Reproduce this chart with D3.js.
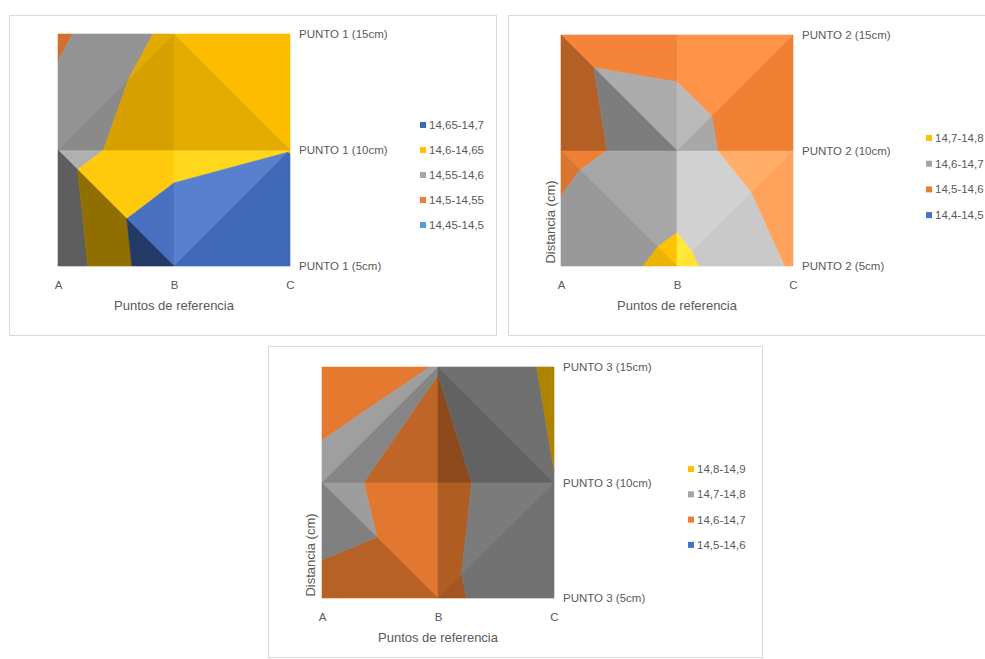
<!DOCTYPE html>
<html>
<head>
<meta charset="utf-8">
<script src="https://cdn.jsdelivr.net/npm/d3@7"></script>
<style>
  body { margin: 0; background: #fff; }
  text { font-family: "Liberation Sans", Arial, sans-serif; fill: #595959; }
</style>
</head>
<body>
<svg id="chart" width="985" height="659"></svg>
<script>
// Reference points along the x axis
const puntos = ["A", "B", "C"];

// ---- PUNTO 1 ----
const distancias1 = ["PUNTO 1 (5cm)", "PUNTO 1 (10cm)", "PUNTO 1 (15cm)"];
// one row per distance (5, 10, 15 cm), one value per point A, B, C
const valores1 = [
  [14.566, 14.698, 14.680],
  [14.580, 14.631, 14.649],
  [14.541, 14.613, 14.615]
];
const limites1 = [14.45, 14.5, 14.55, 14.6, 14.65, 14.7];
const rangos1 = ["14,45-14,5", "14,5-14,55", "14,55-14,6", "14,6-14,65", "14,65-14,7"];
const colores1 = ["#5B9BD5", "#ED7D31", "#A5A5A5", "#FFC000", "#3D66B4"];

// ---- PUNTO 2 ----
const distancias2 = ["PUNTO 2 (5cm)", "PUNTO 2 (10cm)", "PUNTO 2 (15cm)"];
const valores2 = [
  [14.639, 14.725, 14.590],
  [14.575, 14.638, 14.529],
  [14.585, 14.574, 14.511]
];
const limites2 = [14.4, 14.5, 14.6, 14.7, 14.8];
const rangos2 = ["14,4-14,5", "14,5-14,6", "14,6-14,7", "14,7-14,8"];
const colores2 = ["#4472C4", "#ED7D31", "#A5A5A5", "#FFC000"];

// ---- PUNTO 3 ----
const distancias3 = ["PUNTO 3 (5cm)", "PUNTO 3 (10cm)", "PUNTO 3 (15cm)"];
const valores3 = [
  [14.689, 14.675, 14.776],
  [14.7225, 14.660, 14.798],
  [14.661, 14.703, 14.817]
];
const limites3 = [14.5, 14.6, 14.7, 14.8, 14.9];
const rangos3 = ["14,5-14,6", "14,6-14,7", "14,7-14,8", "14,8-14,9"];
const colores3 = ["#4472C4", "#ED7D31", "#A5A5A5", "#FFC000"];

const svg = d3.select("#chart");

// Keep the part of a polygon whose interpolated value lies above (or below) t
function clipPoly(poly, t, above) {
  const out = [];
  for (let i = 0; i < poly.length; i++) {
    const a = poly[i], b = poly[(i + 1) % poly.length];
    const ina = above ? a.v >= t : a.v <= t;
    const inb = above ? b.v >= t : b.v <= t;
    if (ina) out.push(a);
    if (ina !== inb) {
      const k = (t - a.v) / (b.v - a.v);
      out.push({ x: a.x + k * (b.x - a.x), y: a.y + k * (b.y - a.y), v: t });
    }
  }
  return out;
}

// Darken or brighten a band colour by a facet's light factor
function shade(hex, f) {
  const c = d3.rgb(hex);
  const w = Math.max(0, (f - 1) * 1.2);
  const ch = v => {
    const m = Math.min(255, v * f);
    return Math.min(255, m + (255 - m) * w);
  };
  return d3.rgb(ch(c.r), ch(c.g), ch(c.b)).formatHex();
}

const line = d3.line().x(d => d.x).y(d => d.y);

function surface(cfg) {
  const g = svg.append("g");
  const x = d3.scalePoint().domain(puntos).range([cfg.x0, cfg.x1]);
  const y = d3.scalePoint().domain(cfg.distancias).range([cfg.yBot, cfg.yTop]);
  const lo = cfg.limites[0], hi = cfg.limites[cfg.limites.length - 1];
  const span = hi - lo;
  const cellW = x.step(), cellH = y.step();

  const P = (i, j) => ({ x: x(puntos[i]), y: y(cfg.distancias[j]), v: cfg.valores[j][i] });

  const facets = [];
  for (let j = 0; j < cfg.distancias.length - 1; j++) {
    for (let i = 0; i < puntos.length - 1; i++) {
      const BL = P(i, j), BR = P(i + 1, j), TL = P(i, j + 1), TR = P(i + 1, j + 1);
      // each cell is split along the diagonal joining its higher pair of corners
      if (TL.v + BR.v >= TR.v + BL.v) {
        facets.push([TL, TR, BR], [TL, BL, BR]);
      } else {
        facets.push([TL, TR, BL], [TR, BR, BL]);
      }
    }
  }

  facets.forEach(tri => {
    // plane slope of the facet, per cell, rightwards (px) and towards the front (py)
    const [a, b, c] = tri;
    const ux = (b.x - a.x) / cellW, uy = (b.y - a.y) / cellH, uv = b.v - a.v;
    const wx = (c.x - a.x) / cellW, wy = (c.y - a.y) / cellH, wv = c.v - a.v;
    const det = ux * wy - uy * wx;
    const px = (uv * wy - uy * wv) / det;
    const py = (ux * wv - uv * wx) / det;
    // light coming from the back-right of the surface
    const f = 0.85 + (1.03 * py - 0.42 * px) / span;

    cfg.limites.slice(0, -1).forEach((l, k) => {
      const h = cfg.limites[k + 1];
      let poly = clipPoly(tri, l, true);
      if (poly.length >= 3) poly = clipPoly(poly, h, false);
      if (poly.length >= 3) {
        const col = shade(cfg.colores[k], f);
        g.append("path")
          .attr("d", line(poly) + "Z")
          .attr("fill", col)
          .attr("stroke", col)
          .attr("stroke-width", 0.6)
          .attr("stroke-linejoin", "round");
      }
    });
  });

  // point axis below the surface
  const ax = g.append("g")
    .attr("transform", `translate(0,${cfg.yBot})`)
    .call(d3.axisBottom(x).tickSize(0).tickPadding(15));
  ax.select(".domain").remove();
  ax.selectAll("text").style("font-size", "11.5px").style("font-family", "Liberation Sans, Arial, sans-serif").attr("fill", "#595959");

  // distance (series) axis at the right side
  const ay = g.append("g")
    .attr("transform", `translate(${cfg.x1},0)`)
    .call(d3.axisRight(y).tickSize(0).tickPadding(9));
  ay.select(".domain").remove();
  ay.selectAll("text").style("font-size", "11.5px").style("font-family", "Liberation Sans, Arial, sans-serif").attr("fill", "#595959");

  g.append("text")
    .attr("x", (cfg.x0 + cfg.x1) / 2)
    .attr("y", cfg.yBot + 44)
    .attr("text-anchor", "middle")
    .style("font-size", "13px")
    .text("Puntos de referencia");

  if (cfg.yTitle) {
    g.append("text")
      .attr("transform", `translate(${cfg.yTitle[0]},${cfg.yTitle[1]}) rotate(-90)`)
      .attr("text-anchor", "middle")
      .attr("dy", "0.35em")
      .style("font-size", "13px")
      .text("Distancia (cm)");
  }

  // legend, highest band first
  const items = cfg.rangos.map((r, k) => ({ r, c: cfg.colores[k] })).reverse();
  const lg = g.append("g").attr("transform", `translate(${cfg.legend[0]},${cfg.legend[1]})`);
  items.forEach((d, k) => {
    const row = lg.append("g").attr("transform", `translate(0,${k * cfg.legend[2]})`);
    row.append("rect").attr("x", 0).attr("y", -3).attr("width", 6).attr("height", 6).attr("fill", d.c);
    row.append("text").attr("x", 9).attr("dy", "0.35em").style("font-size", "11.5px").text(d.r);
  });
}

// chart frames
[[9.5, 15.5, 487, 320], [508.5, 15.5, 500, 320], [268.5, 346.5, 494, 311]].forEach(r => {
  svg.append("rect")
    .attr("x", r[0]).attr("y", r[1]).attr("width", r[2]).attr("height", r[3])
    .attr("fill", "#fff").attr("stroke", "#D9D9D9").attr("stroke-width", 1);
});

surface({ distancias: distancias1, valores: valores1, limites: limites1, rangos: rangos1, colores: colores1,
  x0: 58, x1: 290, yTop: 34, yBot: 266, legend: [420, 125, 25] });
surface({ distancias: distancias2, valores: valores2, limites: limites2, rangos: rangos2, colores: colores2,
  x0: 561, x1: 793, yTop: 35, yBot: 266, legend: [926, 138, 25.7], yTitle: [550, 222] });
surface({ distancias: distancias3, valores: valores3, limites: limites3, rangos: rangos3, colores: colores3,
  x0: 322, x1: 554, yTop: 367, yBot: 598, legend: [688, 469, 25.3], yTitle: [310, 555] });
</script>
</body>
</html>
